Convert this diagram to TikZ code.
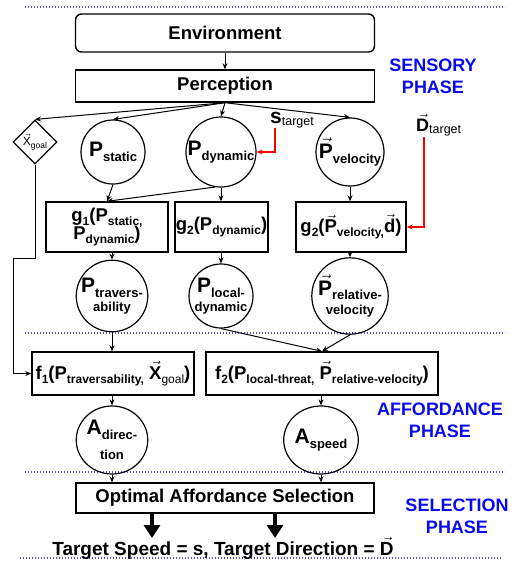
\documentclass[tikz,border=0pt]{standalone}
\usepackage{fontspec}
\setmainfont{Liberation Sans}
\usetikzlibrary{arrows.meta,shapes.geometric}
\definecolor{phaseblue}{RGB}{10,10,240}
\definecolor{dotblue}{RGB}{85,85,175}
\newcommand\sub[1]{\raisebox{-0.22em}{\fontsize{12}{12}\selectfont #1}}
\newcommand\csub[1]{\raisebox{-0.22em}{\fontsize{13}{13}\selectfont #1}}
\newcommand\vecl[1]{\ensuremath{\vec{\mbox{#1}}}}
\newcommand\smallline[1]{{\fontsize{13}{13}\selectfont #1}}
\tikzset{
  every node/.style={font=\bfseries\fontsize{18.5}{20}\selectfont, text=black},
  box/.style={draw, line width=1.4pt, inner sep=0pt, align=center},
  circ/.style={draw, circle, line width=1.2pt, minimum size=64pt, inner sep=0pt, align=center},
  aell/.style={draw, ellipse, line width=1.2pt, minimum width=64pt, minimum height=68pt, inner sep=0pt, align=center},
  arr/.style={line width=1pt, -{Stealth[length=6pt,width=5pt]}},
  redarr/.style={draw=red, line width=1.2pt, -{Stealth[length=6pt,width=5pt]}},
  phase/.style={text=phaseblue, align=center, font=\bfseries\fontsize{18}{22}\selectfont},
  sepline/.style={draw=dotblue, line width=1.3pt, dash pattern=on 1.3pt off 1.7pt},
  bigarr/.style={line width=4pt, -{Triangle[length=13pt,width=16pt]}},
}
\begin{document}
\begin{tikzpicture}[x=1pt,y=-1pt]
\useasboundingbox (0,0) rectangle (526,563);
% separators
\draw[sepline] (25,7) -- (505,7);
\draw[sepline] (25,333) -- (505,333);
\draw[sepline] (25,472) -- (505,472);
\draw[sepline] (20,558) -- (502,558);
% phase labels
\node[phase] (ph1) at (433,76) {SENSORY\\PHASE};
\node[phase] (ph2) at (440,420) {AFFORDANCE\\PHASE};
\node[phase] (ph3) at (457,516) {SELECTION\\PHASE};
% top boxes
\node[box, rounded corners=6pt, minimum width=299pt, minimum height=38pt] (env) at (225,33) {Environment};
\node[box, minimum width=299pt, minimum height=32pt] (perc) at (225,86) {Perception};
% row 1
\node[draw, diamond, line width=1.2pt, minimum width=44pt, minimum height=44pt, inner sep=0pt] (xg) at (35,142)
  {\mdseries\fontsize{12}{12}\selectfont\vecl{X}\raisebox{-0.3em}{\fontsize{8.5}{8.5}\selectfont goal}};
\node[circ] (pst) at (113,152) {\fontsize{21}{21}\selectfont P\csub{static}};
\node[circ] (pdy) at (221,152) {\fontsize{21}{21}\selectfont P\csub{dynamic}};
\node[circ] (pve) at (350,152) {\fontsize{21}{21}\selectfont\vecl{P}\csub{velocity}};
\node[anchor=base west, inner sep=0pt] (stgt) at (270,123)
  {{\fontsize{21}{21}\selectfont s}\raisebox{-2pt}{\mdseries\fontsize{12.5}{12.5}\selectfont target}};
\node[anchor=base west, inner sep=0pt] (dtgt) at (416,131)
  {{\fontsize{18}{18}\selectfont\vecl{D}}\raisebox{-2pt}{\mdseries\fontsize{12.5}{12.5}\selectfont target}};
\coordinate (sT) at (275,128);
\coordinate (dT) at (424,137);
% row 2
\node[box, minimum width=122pt, minimum height=50pt] (g1) at (107,227)
  {g\sub{1}(P\sub{static,}\\[-2pt]P\sub{dynamic})};
\node[box, minimum width=93pt, minimum height=50pt] (g2d) at (221.5,227) {g\sub{2}(P\sub{dynamic})};
\node[box, minimum width=110pt, minimum height=50pt] (g2v) at (351,227) {g\sub{2}(\vecl{P}\sub{velocity,}\vecl{d})};
% row 3
\node[circ] (ptr) at (112,296) {\fontsize{21}{21}\selectfont P\csub{travers-}\\[-1pt]\smallline{ability}};
\node[circ] (ploc) at (221,296) {\fontsize{21}{21}\selectfont P\csub{local-}\\[-1pt]\smallline{dynamic}};
\node[circ] (prel) at (350,296) {\fontsize{21}{21}\selectfont\vecl{P}\csub{relative-}\\[-1pt]\smallline{velocity}};
% row 4
\node[box, minimum width=162pt, minimum height=43pt] (f1) at (113,373.5)
  {f\sub{1}(P\sub{traversability,} \vecl{X}\raisebox{-0.22em}{\mdseries\fontsize{12}{12}\selectfont goal})};
\node[box, minimum width=232pt, minimum height=43pt] (f2) at (322,373.5)
  {f\sub{2}(P\sub{local-threat,} \vecl{P}\sub{relative-velocity})};
% affordances
\node[aell] (adir) at (112,440) {\fontsize{21}{21}\selectfont A\csub{direc-}\\[5pt]\smallline{tion}};
\node[aell] (asp) at (321,440) {\fontsize{21}{21}\selectfont A\csub{speed}};
% selection
\node[box, minimum width=298pt, minimum height=30pt] (opt) at (225,498) {Optimal Affordance Selection};
\coordinate (t1) at (152,538);
\coordinate (t2) at (275,538);
\node[anchor=base, font=\bfseries\fontsize{19}{20}\selectfont] (final) at (223,555) {Target Speed = s, Target Direction = \vecl{D}};
% connectors
\draw[arr] (env) -- (perc);
\draw[arr] (perc.south) -- (xg.north);
\draw[arr] (perc.south) -- (pst.north);
\draw[arr] (perc.south) -- (pdy.north);
\draw[arr] (perc.south) -- (pve.north);
\draw[redarr] (sT) |- (pdy.east);
\draw[redarr] (dT) |- (g2v.east);
\draw[arr] (pst.south) -- (g1.north);
\draw[arr] (pdy.260) -- (g1.north);
\draw[arr] (pdy.south) -- (pdy.south |- g2d.north);
\draw[arr] (pve.south) -- (pve.south |- g2v.north);
\draw[arr] (ptr.north |- g1.south) -- (ptr.north);
\draw[arr] (ploc.north |- g2d.south) -- (ploc.north);
\draw[arr] (prel.north |- g2v.south) -- (prel.north);
\draw[arr] (ptr.south) -- (ptr.south |- f1.north);
\draw[arr] (ploc.south) -- (f2.north);
\draw[arr] (prel.south) -- (f2.north);
\coordinate (k1) at (35,258);
\coordinate (k2) at (13,258);
\draw[arr] (xg.south) -- (k1) -- (k2) |- (f1.west);
\draw[arr] (adir.north |- f1.south) -- (adir.north);
\draw[arr] (asp.north |- f2.south) -- (asp.north);
\draw[arr] (adir.south) -- (adir.south |- opt.north);
\draw[arr] (asp.south) -- (asp.south |- opt.north);
\draw[bigarr] (opt.south -| t1) -- (t1);
\draw[bigarr] (opt.south -| t2) -- (t2);
\end{tikzpicture}
\end{document}
